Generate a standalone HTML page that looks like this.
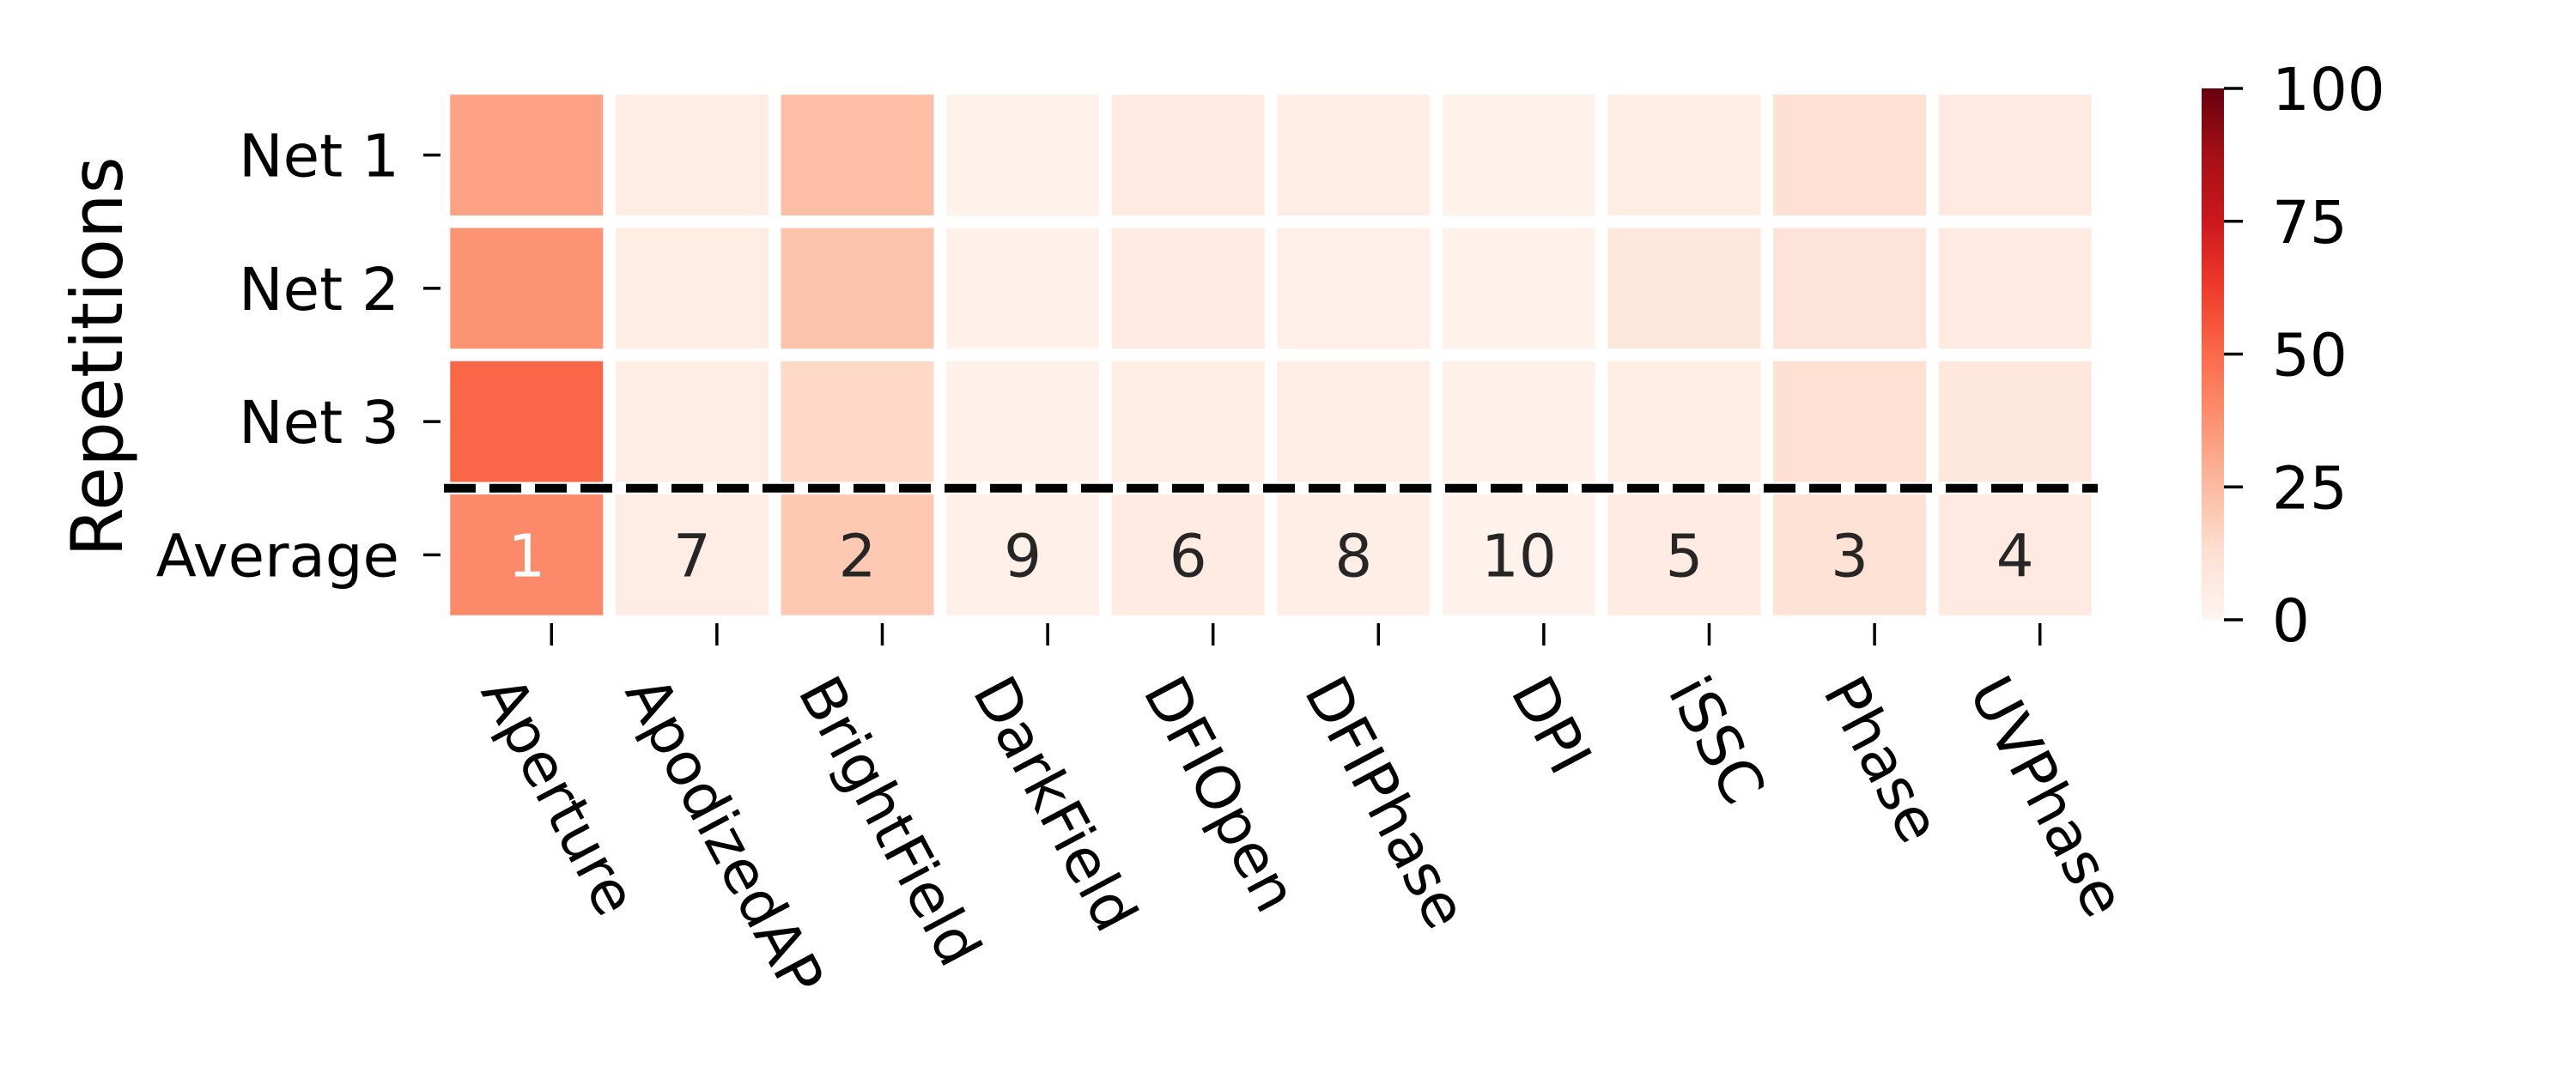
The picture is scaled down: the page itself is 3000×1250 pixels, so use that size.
<!DOCTYPE html>
<html><head><meta charset="utf-8"><style>
html,body{margin:0;padding:0;background:#fff;}
svg{display:block;font-family:"DejaVu Sans","Liberation Sans",sans-serif;}
</style></head><body>
<svg id="chart" width="3000" height="1250" viewBox="0 0 3000 1250" xmlns="http://www.w3.org/2000/svg">
<defs>
<linearGradient id="reds" x1="0" y1="1" x2="0" y2="0">
<stop offset="0" stop-color="#fff5f0"/><stop offset="0.125" stop-color="#fee0d2"/>
<stop offset="0.25" stop-color="#fcbba1"/><stop offset="0.375" stop-color="#fc9272"/>
<stop offset="0.5" stop-color="#fb6a4a"/><stop offset="0.625" stop-color="#ef3b2c"/>
<stop offset="0.75" stop-color="#cb181d"/><stop offset="0.875" stop-color="#a50f15"/>
<stop offset="1" stop-color="#67000d"/></linearGradient>
</defs>
<g id="cells"></g>
<g id="axes"></g>
</svg>
<script>
const categories = ["Aperture","ApodizedAP","BrightField","DarkField","DFIOpen","DFIPhase","DPI","iSSC","Phase","UVPhase"];
const rowLabels = ["Net 1","Net 2","Net 3","Average"];
const net1 = [33, 5.5, 24, 2, 6.5, 4, 2, 5.5, 12, 6.5];
const net2 = [37, 5, 22, 2.5, 6, 3.5, 2, 8, 10, 6];
const net3 = [51, 5, 15, 2.5, 5, 4.5, 2.5, 5, 12, 7.5];
const cbTicks = [0, 25, 50, 75, 100];
const vmin = 0, vmax = 100;

const NS = "http://www.w3.org/2000/svg";
const X0 = 517, X1 = 2443, Y0 = 103, Y1 = 724;
const nC = categories.length, nR = rowLabels.length;
const pw = (X1 - X0) / nC, ph = (Y1 - Y0) / nR;
const xPos = i => X0 + i * pw;
const yPos = j => Y0 + j * ph;
const CB = {x: 2564, w: 26, y0: 103, y1: 722};
const cbY = v => CB.y1 - (v - vmin) / (vmax - vmin) * (CB.y1 - CB.y0);

const stops = [[0,[255,245,240]],[0.125,[254,224,210]],[0.25,[252,187,161]],[0.375,[252,146,114]],[0.5,[251,106,74]],[0.625,[239,59,44]],[0.75,[203,24,29]],[0.875,[165,15,21]],[1,[103,0,13]]];
function cmap(v){
  let t = Math.max(0, Math.min(1, (v - vmin) / (vmax - vmin)));
  for (let k = 1; k < stops.length; k++) {
    if (t <= stops[k][0]) {
      const a = stops[k-1], b = stops[k], f = (t - a[0]) / (b[0] - a[0]);
      const c = a[1].map((x, i) => Math.round(x + (b[1][i] - x) * f));
      return {css: `rgb(${c[0]},${c[1]},${c[2]})`, lum: (0.299*c[0] + 0.587*c[1] + 0.114*c[2]) / 255};
    }
  }
  return {css: "rgb(103,0,13)", lum: 0.1};
}
function mk(tag, attrs, parent){
  const e = document.createElementNS(NS, tag);
  for (const k in attrs) e.setAttribute(k, attrs[k]);
  parent.appendChild(e); return e;
}
const avg = categories.map((c, i) => (net1[i] + net2[i] + net3[i]) / 3);
const order = avg.map((v, i) => i).sort((a, b) => avg[b] - avg[a]);
const ranks = []; order.forEach((idx, r) => ranks[idx] = r + 1);
const rows = [net1, net2, net3, avg];

const cells = document.getElementById("cells");
const axes = document.getElementById("axes");
const inset = 7.3;
rows.forEach((row, j) => {
  row.forEach((v, i) => {
    const col = cmap(v);
    const r = mk("rect", {x: xPos(i) + inset, y: yPos(j) + inset, width: pw - 2*inset, height: ph - 2*inset, fill: col.css}, cells);
    
    
    if (j === 3) {
      const t = mk("text", {x: xPos(i) + pw/2, y: yPos(j) + ph/2 + 25, "text-anchor": "middle", "font-size": 69, fill: col.lum < 0.72 ? "#ffffff" : "#262626"}, cells);
      t.textContent = ranks[i];
      
      
    }
  });
});
// dashed separator
const dl = mk("line", {x1: X0, x2: X1, y1: yPos(3), y2: yPos(3), stroke: "#000", "stroke-width": 10, "stroke-dasharray": "37 16"}, axes);


// y ticks
rowLabels.forEach((lab, j) => {
  const y = yPos(j) + ph/2;
  const tk = mk("line", {x1: X0 - 24, x2: X0 - 4, y1: y, y2: y, stroke: "#000", "stroke-width": 3.5}, axes);
  
  
  const t = mk("text", {x: X0 - 52, y: y + 25, "text-anchor": "end", "font-size": 69, fill: "#000"}, axes);
  t.textContent = lab;
  
  
});
// x ticks (offset right of cell centres, as in the reference)
const tickShift = 29;
categories.forEach((lab, i) => {
  const x = xPos(i) + pw/2 + tickShift;
  const tk = mk("line", {x1: x, x2: x, y1: Y1 + 2, y2: Y1 + 28, stroke: "#000", "stroke-width": 3.5}, axes);
  
  
  const t = mk("text", {x: 0, y: 0, "text-anchor": "middle", "dominant-baseline": "central", "font-size": 69, fill: "#000"}, axes);
  t.textContent = lab;
  
  
  const len = t.getComputedTextLength();
  const ang = 62 * Math.PI / 180;
  const cy = 778 + (len * Math.sin(ang) + 69 * Math.cos(ang)) / 2;
  t.setAttribute("transform", `translate(${x + 8},${cy}) rotate(62)`);
});
// y-axis title
const yt = mk("text", {x: 0, y: 0, "text-anchor": "middle", "font-size": 83, fill: "#000", transform: `translate(${142},${(Y0 + Y1)/2 + 2}) rotate(-90)`}, axes);
yt.textContent = "Repetitions";


// colorbar
const cb = mk("rect", {x: CB.x, y: CB.y0, width: CB.w, height: CB.y1 - CB.y0, fill: "url(#reds)"}, axes);


cbTicks.forEach(v => {
  const y = cbY(v);
  const tk = mk("line", {x1: CB.x + CB.w, x2: CB.x + CB.w + 22, y1: y, y2: y, stroke: "#000", "stroke-width": 3.5}, axes);
  
  
  const t = mk("text", {x: 2646, y: y + 25, "font-size": 69, fill: "#000"}, axes);
  t.textContent = v;
  
  
});
</script>
</body></html>
